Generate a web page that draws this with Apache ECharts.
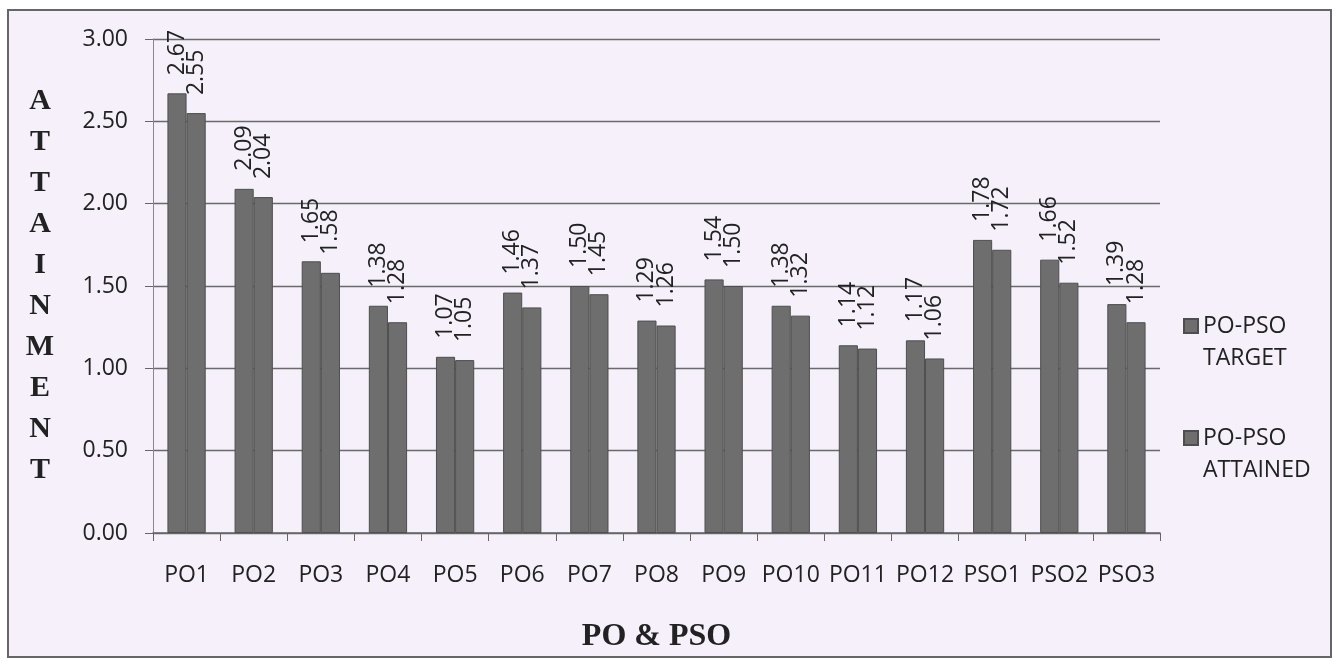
<!DOCTYPE html>
<html>
<head>
<meta charset="utf-8">
<script src="https://cdn.jsdelivr.net/npm/echarts@6/dist/echarts.min.js"></script>
<style>
  html, body { margin: 0; padding: 0; background: #ffffff; }
  #main { width: 1338px; height: 664px; }
</style>
</head>
<body>
<div id="main"></div>
<script>
var categories = ['PO1', 'PO2', 'PO3', 'PO4', 'PO5', 'PO6', 'PO7', 'PO8', 'PO9', 'PO10', 'PO11', 'PO12', 'PSO1', 'PSO2', 'PSO3'];
var targetValues = [2.67, 2.09, 1.65, 1.38, 1.07, 1.46, 1.50, 1.29, 1.54, 1.38, 1.14, 1.17, 1.78, 1.66, 1.39];
var attainedValues = [2.55, 2.04, 1.58, 1.28, 1.05, 1.37, 1.45, 1.26, 1.50, 1.32, 1.12, 1.06, 1.72, 1.52, 1.28];
var seriesNames = ['PO-PSO\nTARGET', 'PO-PSO\nATTAINED'];
var yTitle = 'ATTAINMENT';

var myChart = echarts.init(document.getElementById('main'));

function barLabel() {
    return {
        show: true,
        position: 'top',
        rotate: 90,
        align: 'left',
        verticalAlign: 'middle',
        distance: 18,
        fontFamily: 'Open Sans',
        fontSize: 23,
        color: '#222',
        formatter: function (p) { return p.value.toFixed(2); }
    };
}

var option = {
    animation: false,
    backgroundColor: '#ffffff',
    graphic: [{
        type: 'rect',
        z: -10,
        shape: { x: 8, y: 10, width: 1323, height: 647 },
        style: { fill: '#f5f0fa', stroke: '#666', lineWidth: 2 }
    }],
    legend: {
        orient: 'vertical',
        left: 1178,
        top: 273,
        itemGap: 16,
        itemWidth: 14,
        itemHeight: 14,
        icon: 'rect',
        data: seriesNames,
        formatter: function (n) { return ' \n' + n; },
        textStyle: { fontFamily: 'Open Sans', fontSize: 23, color: '#222', lineHeight: 32 }
    },
    grid: { left: 153, right: 178, top: 39, bottom: 131 },
    xAxis: {
        type: 'category',
        data: categories,
        name: 'PO & PSO',
        nameLocation: 'middle',
        nameGap: 88,
        nameTextStyle: { fontFamily: 'Liberation Serif', fontWeight: 'bold', fontSize: 32, color: '#222' },
        axisLine: { lineStyle: { color: '#666', width: 1.5 } },
        axisTick: { show: true, interval: 0, length: 8, lineStyle: { color: '#666' } },
        axisLabel: { interval: 0, fontFamily: 'Open Sans', fontSize: 23, color: '#222', margin: 31 }
    },
    yAxis: {
        type: 'value',
        min: 0,
        max: 3,
        interval: 0.5,
        name: yTitle.split('').join('\n'),
        nameLocation: 'middle',
        nameRotate: 0,
        nameGap: 113,
        nameTextStyle: { fontFamily: 'Liberation Serif', fontWeight: 'bold', fontSize: 30, color: '#222', lineHeight: 41, align: 'center', verticalAlign: 'middle' },
        axisLine: { show: true, lineStyle: { color: '#888' } },
        axisTick: { show: true, length: 8, lineStyle: { color: '#666' } },
        axisLabel: { fontFamily: 'Open Sans', fontSize: 23, color: '#222', margin: 25, formatter: function (v) { return v.toFixed(2); } },
        splitLine: { lineStyle: { color: '#6a6a6a', width: 1.3 } }
    },
    series: [
        {
            name: seriesNames[0],
            type: 'bar',
            data: targetValues,
            barGap: '0%',
            barCategoryGap: '43%',
            itemStyle: { color: '#6e6e6e', borderColor: '#4e4e4e', borderWidth: 1 },
            label: barLabel()
        },
        {
            name: seriesNames[1],
            type: 'bar',
            data: attainedValues,
            itemStyle: { color: '#6e6e6e', borderColor: '#4e4e4e', borderWidth: 1 },
            label: barLabel()
        }
    ]
};
myChart.setOption(option);
</script>
</body>
</html>
